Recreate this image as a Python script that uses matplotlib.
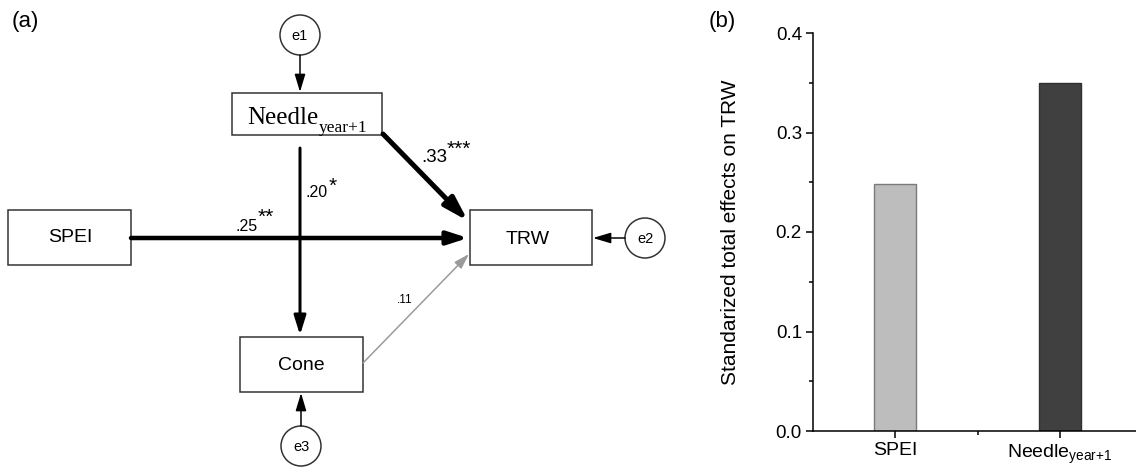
import matplotlib.pyplot as plt
from matplotlib.patches import Rectangle, Circle, FancyArrowPatch, ArrowStyle

plt.rcParams['font.family'] = ['Liberation Sans', 'DejaVu Sans']

# path coefficients (standardized) and significance
path_names = ["SPEI->TRW", "Needle->TRW", "Needle->Cone", "Cone->TRW"]
path_coefs = [0.25, 0.33, 0.20, 0.11]
path_stars = ["**", "***", "*", ""]

# total effects on TRW
bar_cats = ["SPEI", "Needle$_{\\mathregular{year{+}1}}$"]
bar_vals = [0.248, 0.35]
bar_colors = ["#bdbdbd", "#404040"]

PT = 72 / 100.0  # px -> pt

fig = plt.figure(figsize=(11.36, 4.68), dpi=100)
ax = fig.add_axes([0, 0, 1, 1])
ax.set_xlim(0, 1136)
ax.set_ylim(468, 0)
ax.axis('off')

# ---- (a) path diagram, layout in pixel coords
boxes = {
    "SPEI": (8, 210, 123, 55),
    "TRW": (470, 210, 122, 55),
    "Needle": (232, 93, 150, 42),
    "Cone": (240, 337, 123, 55),
}
for k, (x, y, w, h) in boxes.items():
    ax.add_patch(Rectangle((x, y), w, h, fill=False, ec='#303030', lw=1.5 * PT))

ax.text(70, 238, "SPEI", ha='center', va='center', fontsize=14)
ax.text(528, 239, "TRW", ha='center', va='center', fontsize=14)
ax.text(301, 365, "Cone", ha='center', va='center', fontsize=14)

fig.canvas.draw()
rend = fig.canvas.get_renderer()
t = ax.text(247, 124, "Needle", ha='left', va='baseline', fontsize=18,
            family='Liberation Serif')
bb = t.get_window_extent(rend).transformed(ax.transData.inverted())
ax.text(bb.x1 + 1, 132, "year+1", ha='left', va='baseline', fontsize=12.5,
        family='Liberation Serif')

errs = {"e1": (300, 35), "e2": (645, 238), "e3": (301, 446)}
for k, (x, y) in errs.items():
    ax.add_patch(Circle((x, y), 20, fill=False, ec='#303030', lw=1.5 * PT))
    ax.text(x, y + 1, k, ha='center', va='center', fontsize=10.5)


def arrow(p0, p1, lw, hl, hw, color='black'):
    st = ArrowStyle('-|>', head_length=hl * PT, head_width=hw * PT)
    ax.add_patch(FancyArrowPatch(p0, p1, arrowstyle=st, mutation_scale=1,
                                 lw=lw * PT, color=color, shrinkA=0, shrinkB=0))


# error arrows
arrow((300, 55), (300, 92), 1.5, 15, 4.5)
arrow((301, 426), (301, 393), 1.5, 15, 4.5)
arrow((625, 238), (593, 238), 1.5, 15, 4.5)

# structural paths
arrow((131, 238), (468, 238), 4.5, 17, 5.5)           # SPEI -> TRW
arrow((383, 134), (468, 221), 5, 20, 6)              # Needle -> TRW
arrow((300, 148), (300, 335), 3, 16, 5)              # Needle -> Cone
arrow((363, 363), (469, 254), 1.5, 13, 4, color='#9a9a9a')  # Cone -> TRW

lab = dict(zip(path_names, zip(path_coefs, path_stars)))


def coef_text(name, x, y, fs, sx, sy, sfs):
    # x, y: centre / baseline of the number; sx, sy: star left / centre
    c, s = lab[name]
    ax.text(x, y, ("%.2f" % c)[1:], ha='center', va='baseline', fontsize=fs)
    if s:
        ax.text(sx, sy + 0.58 * sfs / PT, s, ha='left', va='baseline', fontsize=sfs)


coef_text("Needle->TRW", 434, 162, 13.5, 447, 143, 15)
coef_text("Needle->Cone", 317, 197, 11.5, 329, 180, 15)
coef_text("SPEI->TRW", 247, 231, 11.5, 258, 211, 15)
coef_text("Cone->TRW", 405, 303, 8.5, 0, 0, 8)

ax.text(25, 21, "(a)", ha='center', va='center', fontsize=16)
ax.text(722, 21, "(b)", ha='center', va='center', fontsize=16)

# ---- (b) bar chart
axb = fig.add_axes([813 / 1136, 37 / 468, (1142 - 813) / 1136, 398 / 468])
xs = [1, 2]
axb.bar(xs, bar_vals, width=0.255, color=bar_colors, edgecolor=['#7a7a7a', '#303030'],
        lw=1)
axb.set_xlim(0.5, 2.5)
axb.set_ylim(0, 0.4)
axb.set_yticks([0, 0.1, 0.2, 0.3, 0.4])
axb.set_yticks([0.05, 0.15, 0.25, 0.35], minor=True)
axb.set_xticks(xs)
axb.set_xticklabels(bar_cats, fontsize=14)
axb.set_xticks([1.5], minor=True)
for s in ['top', 'right']:
    axb.spines[s].set_visible(False)
for s in ['left', 'bottom']:
    axb.spines[s].set_linewidth(1.1)
axb.tick_params(which='major', length=5, width=1.1, labelsize=13.5, pad=3)
axb.tick_params(axis='x', labelsize=14)
axb.tick_params(which='minor', length=3, width=1.1)
axb.set_ylabel("Standarized total effects on TRW", fontsize=15, labelpad=26)

fig.savefig("out.png", dpi=100)
